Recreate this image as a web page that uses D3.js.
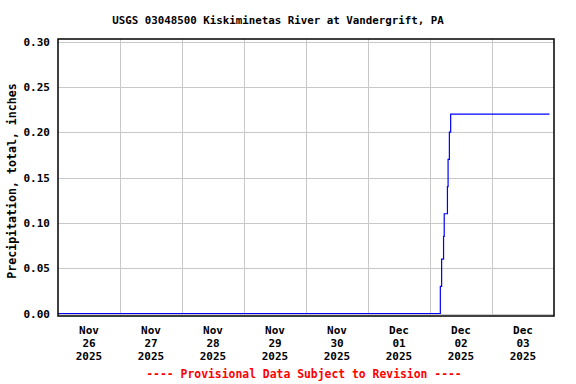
<!DOCTYPE html>
<html>
<head>
<meta charset="utf-8">
<script src="https://cdn.jsdelivr.net/npm/d3@7"></script>
<style>
  html, body { margin: 0; padding: 0; background: #fff; }
  svg { display: block; }
  text { font-family: "DejaVu Sans Mono", "Liberation Mono", monospace; font-weight: bold; }
</style>
</head>
<body>
<script>
const title = "USGS 03048500 Kiskiminetas River at Vandergrift, PA";
const yTitle = "Precipitation, total, inches";
const footer = "---- Provisional Data Subject to Revision ----";
const times = ["2025-11-26T00:00", "2025-12-02T04:00", "2025-12-02T04:30", "2025-12-02T05:15",
               "2025-12-02T05:30", "2025-12-02T06:45", "2025-12-02T07:00", "2025-12-02T07:30",
               "2025-12-02T08:00", "2025-12-03T22:15"];
const values = [0, 0.03, 0.06, 0.085, 0.11, 0.14, 0.17, 0.20, 0.22, 0.22];
const yTicks = [0, 0.05, 0.10, 0.15, 0.20, 0.25, 0.30];
const xDomain = ["2025-11-26T00:00", "2025-12-04T00:00"];

const W = 576, H = 384;
const parse = d3.utcParse("%Y-%m-%dT%H:%M");
const data = times.map((t, i) => ({ t: parse(t), v: values[i] }));

const svg = d3.select("body").append("svg").attr("width", W).attr("height", H);

const frame = { left: 58, right: 554, top: 39, bottom: 316 };
const x = d3.scaleUtc().domain(xDomain.map(parse)).range([frame.left, frame.right]);
const y = d3.scaleLinear().domain([0, 0.30]).range([313.5, 41.5]);

// gridlines
const days = d3.utcDay.range(x.domain()[0], x.domain()[1]).slice(1);
svg.append("g").selectAll("line").data(days).join("line")
  .attr("x1", d => Math.round(x(d)) + 0.5).attr("x2", d => Math.round(x(d)) + 0.5)
  .attr("y1", frame.top).attr("y2", frame.bottom)
  .attr("stroke", "#c8c8c8").attr("stroke-width", 1);
svg.append("g").selectAll("line").data(yTicks).join("line")
  .attr("x1", frame.left).attr("x2", frame.right)
  .attr("y1", d => Math.round(y(d)) + 0.5).attr("y2", d => Math.round(y(d)) + 0.5)
  .attr("stroke", "#c8c8c8").attr("stroke-width", 1);

// data line
const line = d3.line().x(d => x(d.t)).y(d => y(d.v)).curve(d3.curveStepAfter);
svg.append("path").datum(data).attr("d", line)
  .attr("fill", "none").attr("stroke", "#0000ff").attr("stroke-width", 1.2);

// frame
svg.append("rect").attr("x", frame.left).attr("y", frame.top)
  .attr("width", frame.right - frame.left).attr("height", frame.bottom - frame.top)
  .attr("fill", "none").attr("stroke", "#000").attr("stroke-width", 1.5);

// y tick labels
svg.append("g").selectAll("text").data(yTicks).join("text")
  .attr("x", 50).attr("y", d => y(d) + 4)
  .attr("text-anchor", "end").attr("font-size", 11)
  .text(d => d3.format(".2f")(d));

// x tick labels
const noons = days.map(d => d3.utcHour.offset(d, -12)).concat([d3.utcHour.offset(days[days.length - 1], 12)]);
const xl = svg.append("g").selectAll("text").data(noons).join("text")
  .attr("x", d => x(d)).attr("y", 334)
  .attr("text-anchor", "middle").attr("font-size", 11);
xl.append("tspan").attr("x", d => x(d)).attr("dy", 0).text(d => d3.utcFormat("%b")(d));
xl.append("tspan").attr("x", d => x(d)).attr("dy", 13).text(d => d3.utcFormat("%d")(d));
xl.append("tspan").attr("x", d => x(d)).attr("dy", 13).text(d => d3.utcFormat("%Y")(d));

// titles
svg.append("text").attr("x", 278).attr("y", 24).attr("text-anchor", "middle")
  .attr("font-size", 10.8).text(title);
svg.append("text").attr("transform", "translate(16,181) rotate(-90)")
  .attr("text-anchor", "middle").attr("font-size", 11.6).text(yTitle);
svg.append("text").attr("x", 304).attr("y", 378).attr("text-anchor", "middle")
  .attr("font-size", 11.4).attr("fill", "#ff0000").text(footer);
</script>
</body>
</html>
